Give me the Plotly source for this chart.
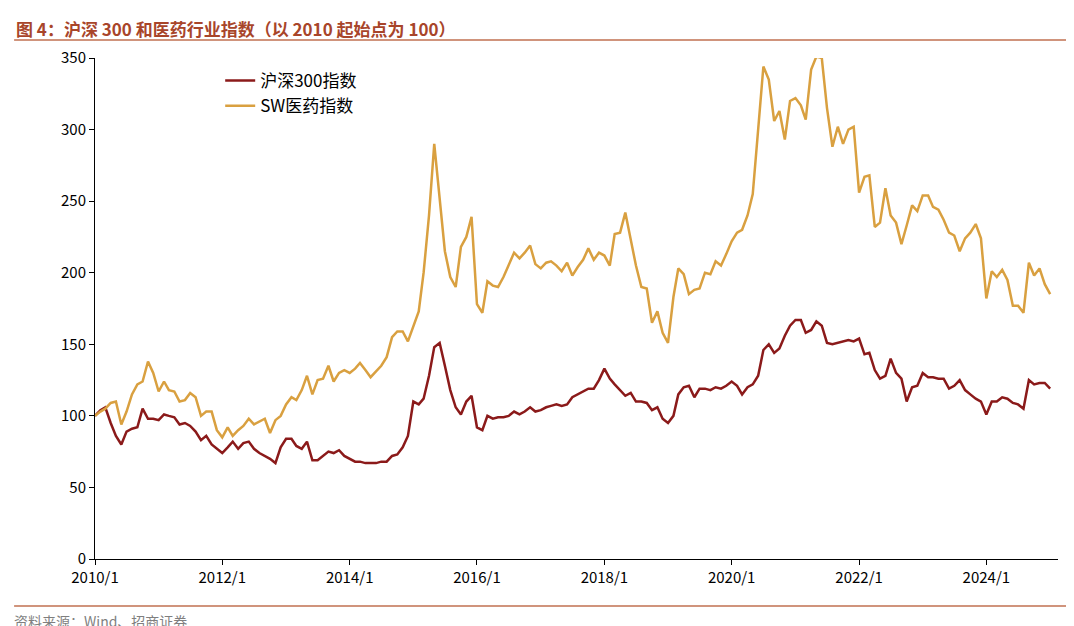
import plotly.graph_objects as go
import pandas as pd

dates = pd.date_range("2010-01-01", "2025-01-01", freq="MS")

csi300 = [
 100,104,106,95,86,80,89,91,92,105,98,98,
 97,101,100,99,94,95,93,89,83,86,80,77,
 74,78,82,77,81,82,77,74,72,70,67,78,
 84,84,79,77,82,69,69,72,75,74,76,72,
 70,68,68,67,67,67,68,68,72,73,78,86,
 110,108,112,128,148,151,135,118,106,101,110,114,
 92,90,100,98,99,99,100,103,101,103,106,103,
 104,106,107,108,107,108,113,115,117,119,119,125,
 133,126,122,118,114,116,110,110,109,104,106,98,
 95,100,115,120,121,113,119,119,118,120,119,121,
 124,121,115,120,122,128,146,150,144,147,156,163,
 167,167,158,160,166,163,151,150,151,152,153,152,
 154,143,144,132,126,128,140,130,126,110,120,121,
 130,127,127,126,126,119,121,125,118,115,112,110,
 101,110,110,113,112,109,108,105,125,122,123,123,
 119]

sw_med = [
 100,103,105,109,110,94,103,115,122,124,138,130,
 117,124,118,117,110,111,116,113,100,103,103,90,
 85,92,86,90,93,98,94,96,98,88,97,100,
 108,113,111,118,128,115,125,126,135,124,130,132,
 130,133,137,132,127,131,135,141,155,159,159,152,
 163,173,200,240,290,250,215,197,190,218,225,239,
 178,172,194,191,190,197,205,214,210,214,219,206,
 203,207,208,205,201,207,198,204,209,217,209,214,
 212,205,227,228,242,222,205,190,189,165,173,158,
 151,183,203,199,185,188,189,200,199,208,205,213,
 222,228,230,240,255,300,344,335,306,313,293,320,
 322,317,307,342,351,350,315,288,302,290,300,302,
 256,267,268,232,235,259,240,235,220,233,247,243,
 254,254,246,244,237,228,226,215,224,228,234,224,
 182,201,197,202,195,177,177,172,207,198,203,192,
 185]

tick_vals = [f"{y}-01-01" for y in range(2010, 2025, 2)]
tick_text = [f"{y}/1" for y in range(2010, 2025, 2)]

font = "Noto Sans CJK SC, Liberation Sans, sans-serif"
fig = go.Figure()
fig.add_trace(go.Scatter(x=dates, y=csi300, mode="lines", name="沪深300指数",
                         line=dict(color="#8b1a1a", width=2.5), cliponaxis=False))
fig.add_trace(go.Scatter(x=dates, y=sw_med, mode="lines", name="SW医药指数",
                         line=dict(color="#d9a040", width=2.5), cliponaxis=False))

fig.update_layout(
    width=1074, height=626, plot_bgcolor="white", paper_bgcolor="white",
    margin=dict(l=87, r=24, t=50, b=75),
    font=dict(family=font, size=15, color="black"),
    legend=dict(x=0.13, y=0.99, xanchor="left", yanchor="top",
                bgcolor="rgba(0,0,0,0)", font=dict(size=17)),
    xaxis=dict(range=["2010-01-01", "2025-02-15"], tickvals=tick_vals, ticktext=tick_text,
               showline=True, linecolor="black", linewidth=1, ticks="outside",
               tickcolor="black", showgrid=False, tickfont=dict(size=15), automargin=False),
    yaxis=dict(range=[0, 350], dtick=50, showline=True, linecolor="black", linewidth=1,
               ticks="outside", tickcolor="black", showgrid=False, tickfont=dict(size=15),
               automargin=False),
    annotations=[
        dict(text="<b>图 4：沪深 300 和医药行业指数（以 2010 起始点为 100）</b>", x=0.0, y=1.0,
             xref="paper", yref="paper", xanchor="left", yanchor="top", showarrow=False,
             font=dict(size=17, color="#a8452a", family=font), xshift=-81, yshift=44),
        dict(text="资料来源：Wind、招商证券", x=0.0, y=0.0, xref="paper", yref="paper",
             xanchor="left", yanchor="top", showarrow=False,
             font=dict(size=14, color="#7f7f7f", family=font), xshift=-83, yshift=-50),
    ],
    shapes=[
        dict(type="line", xref="paper", yref="paper", x0=-0.084, x1=1.02, y0=1.036, y1=1.036,
             line=dict(color="#c07050", width=1.5)),
        dict(type="line", xref="paper", yref="paper", x0=-0.084, x1=1.02, y0=-0.094, y1=-0.094,
             line=dict(color="#c07050", width=1.5)),
    ],
)
fig.write_html("out.html")
